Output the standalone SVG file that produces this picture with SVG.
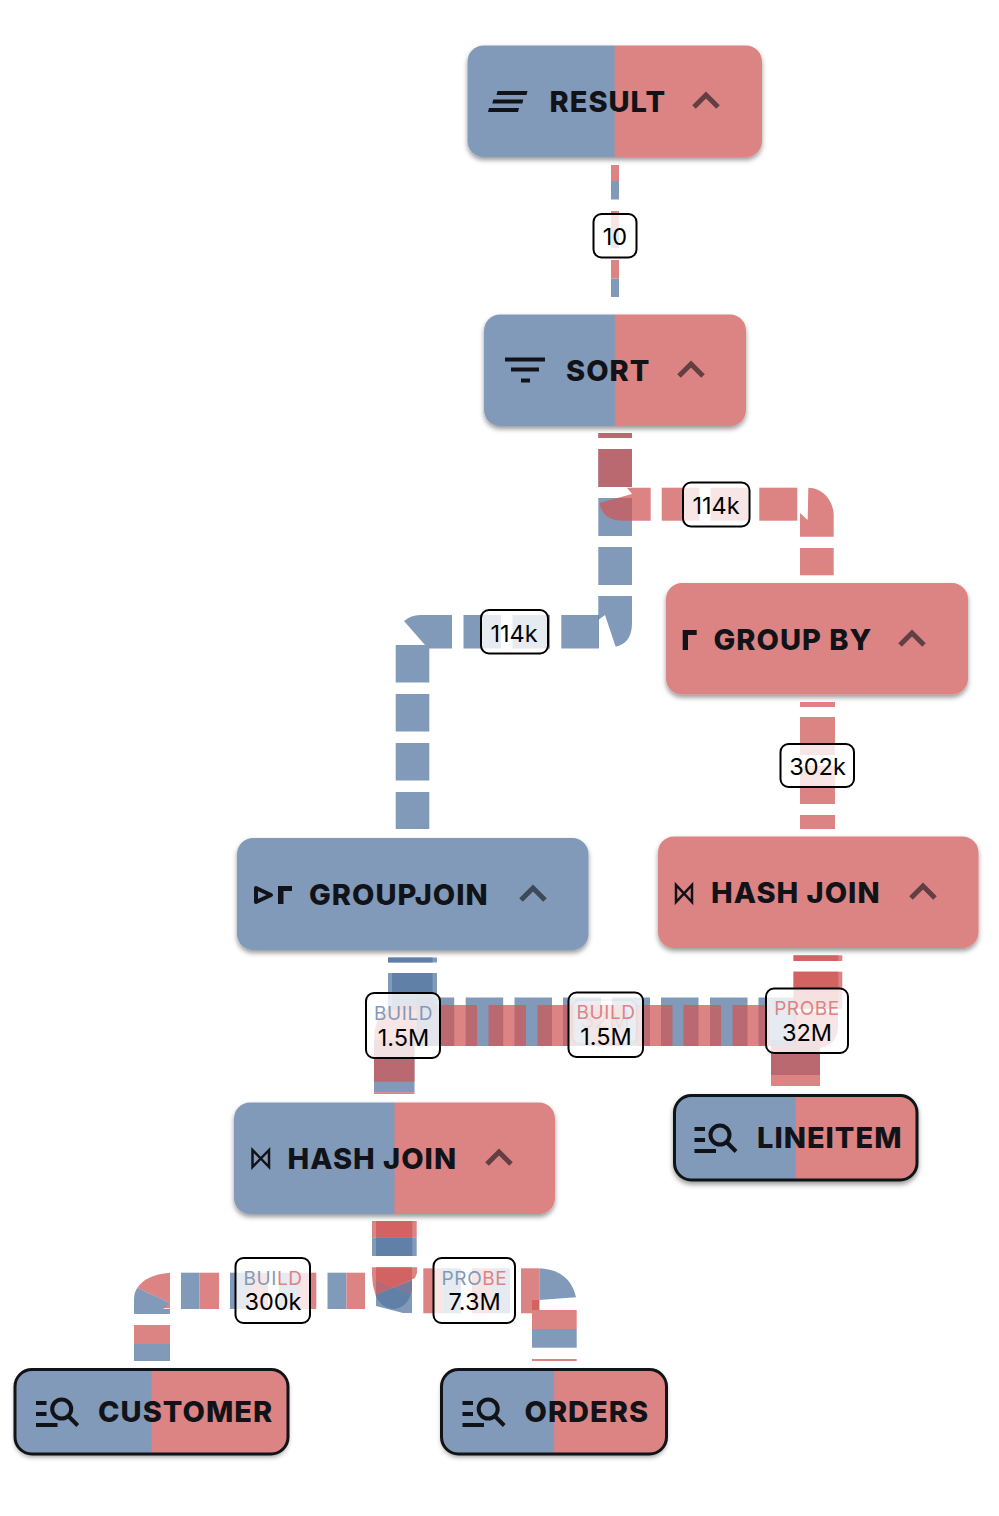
<svg xmlns="http://www.w3.org/2000/svg" width="999" height="1516" viewBox="0 0 999 1516">
<style>
.b{fill:#5577a1;fill-opacity:.74}
.r{fill:#d05858;fill-opacity:.74}
.node{filter:url(#sh)}
.title{font:800 29px Inter,"Liberation Sans",sans-serif;fill:#111318;letter-spacing:1px}
.chev{fill:none;stroke:#111318;stroke-opacity:.6;stroke-width:5}
.ic{fill:#111318}
.icl{fill:none;stroke:#111318;stroke-width:4}
.lab{fill:#fff;fill-opacity:.8;stroke:#000;stroke-width:2}
.lt{font:400 23.5px Inter,"Liberation Sans",sans-serif;fill:#000;text-anchor:middle}
.ls{font:400 19px Inter,"Liberation Sans",sans-serif;text-anchor:middle;letter-spacing:.6px}
.cb{fill:#819ab9}
.cr{fill:#dc8383}
.scan{stroke:#111318;stroke-width:3}
</style>
<defs>
<filter id="sh" x="-5%" y="-10%" width="110%" height="125%"><feDropShadow dx="0" dy="3" stdDeviation="2.5" flood-color="#000" flood-opacity=".4"/></filter>
<linearGradient id="split"><stop offset=".497" stop-color="#819ab9"/><stop offset=".503" stop-color="#dc8383"/></linearGradient>
</defs>

<g id="connectors">
<!-- result to sort -->
<rect class="cr" x="611" y="165" width="8" height="16"/><rect class="cb" x="611" y="181" width="8" height="18.5"/>
<rect class="cr" x="611" y="211" width="8" height="18"/><rect class="cb" x="611" y="229" width="8" height="19"/>
<rect class="cr" x="611" y="260" width="8" height="18.5"/><rect class="cb" x="611" y="278.500" width="8" height="18.500"/>

<!-- sort to groupjoin -->
<rect class="b" x="598.300" y="433" width="33.700" height="5"/>
<rect class="b" x="598.300" y="449" width="33.700" height="38"/>
<rect class="b" x="598.300" y="498" width="33.700" height="38"/>
<rect class="b" x="598.300" y="547" width="33.700" height="38"/>
<path class="b" d="M598.300,596H632V623Q632,643 615.700,646.700L605,615L598.300,620Z"/>
<rect class="b" x="561.300" y="615" width="37.700" height="33.500"/>
<rect class="b" x="512.500" y="615" width="37.500" height="33.500"/>
<rect class="b" x="463.500" y="615" width="37.500" height="33.500"/>
<path class="b" d="M452,615H420Q411,615 404,621L425,645H429V648.500H452Z"/>
<rect class="b" x="395.700" y="645" width="33.600" height="37.500"/>
<rect class="b" x="395.700" y="694" width="33.600" height="37.500"/>
<rect class="b" x="395.700" y="743" width="33.600" height="37.500"/>
<rect class="b" x="395.700" y="792" width="33.600" height="37"/>

<!-- sort to group by -->
<rect class="r" x="598.300" y="433" width="33.700" height="5"/>
<rect class="r" x="598.300" y="449" width="33.700" height="38"/>
<path class="r" d="M650.700,487.700H627L632,494L599.300,503Q603,520.700 623,520.700H650.700Z"/>
<rect class="r" x="661.700" y="487.700" width="37.700" height="33"/>
<rect class="r" x="710.500" y="487.700" width="37.500" height="33"/>
<rect class="r" x="759.300" y="487.700" width="38" height="33"/>
<path class="r" d="M808.300,487.700C824,488 833.700,502 833.700,515V536.700H800V513L807.700,520Z"/>
<rect class="r" x="800" y="548" width="33.700" height="27.300"/>

<!-- group by to hash join -->
<rect class="r" x="800" y="702" width="35" height="5"/>
<rect class="r" x="800" y="717" width="35" height="38"/>
<rect class="r" x="800" y="766" width="35" height="38"/>
<rect class="r" x="800" y="815" width="35" height="14"/>

<!-- groupjoin to hash join, left stub -->
<rect class="b" x="388" y="957.500" width="49" height="5"/>
<rect class="b" x="388" y="957.500" width="44.500" height="5"/>
<rect class="b" x="388" y="973" width="49" height="37"/>
<rect class="b" x="392" y="973" width="40.500" height="37"/>
<rect class="b" x="374" y="1040" width="40.500" height="52.300"/>
<path class="r" d="M374,1092.300V1094H414.500V1092.300Z"/>
<rect class="r" x="374" y="1056" width="40.500" height="25.700"/>
<path class="r" d="M374,1056V1040Q374,1008 400,1005H439.500V1046H414.500V1056Z"/>

<!-- horizontal band -->
<rect class="b" x="416.700" y="997.500" width="37.500" height="48.500"/>
<rect class="b" x="465.700" y="997.500" width="37.500" height="48.500"/>
<rect class="b" x="514.500" y="997.500" width="37.500" height="48.500"/>
<rect class="b" x="563" y="997.500" width="38" height="48.500"/>
<rect class="b" x="612" y="997.500" width="38" height="48.500"/>
<rect class="b" x="661" y="997.500" width="37.500" height="48.500"/>
<rect class="b" x="710" y="997.500" width="37.500" height="48.500"/>
<rect class="b" x="758.500" y="997.500" width="37.500" height="48.500"/>
<rect class="r" x="439.500" y="1005" width="37.500" height="41"/>
<rect class="r" x="488.500" y="1005" width="37.500" height="41"/>
<rect class="r" x="537.500" y="1005" width="37.500" height="41"/>
<rect class="r" x="586.500" y="1005" width="37.500" height="41"/>
<rect class="r" x="635" y="1005" width="37.500" height="41"/>
<rect class="r" x="683.500" y="1005" width="37.500" height="41"/>
<rect class="r" x="732.500" y="1005" width="37.500" height="41"/>

<!-- hash join to lineitem -->
<rect class="r" x="793.500" y="955.300" width="48.800" height="5.700"/>
<rect class="r" x="793.500" y="955.300" width="44.800" height="5.700"/>
<rect class="r" x="793.500" y="971.700" width="48.800" height="37"/>
<rect class="r" x="793.500" y="971.700" width="44.800" height="37"/>
<rect class="b" x="771" y="1040" width="49" height="35"/>
<path class="r" d="M793.500,1012H838V1025Q838,1045 820,1048V1086H771V1045H793.500Z"/>

<!-- hash join to scans, top stub -->
<rect class="r" x="372" y="1221" width="40.300" height="16.500"/>
<rect class="r" x="376" y="1221" width="40.700" height="16.500"/>
<rect class="b" x="372" y="1237.500" width="40.300" height="18.500"/>
<rect class="b" x="376" y="1237.500" width="40.700" height="18.500"/>

<!-- customer branch -->
<path class="r" d="M170,1272.700Q145,1275 137.300,1288L170,1302.700Z"/>
<path class="b" d="M137.300,1288Q134,1292 134,1300V1314H170V1309H163L170,1302.700Z"/>
<path class="r" d="M162.700,1308.300L170,1302.700V1308.300Z"/>
<rect class="cr" x="134" y="1325" width="36" height="19"/>
<rect class="cb" x="134" y="1344" width="36" height="17"/>
<rect class="cb" x="181" y="1272.700" width="18.500" height="36.300"/><rect class="cr" x="199.500" y="1272.700" width="19.500" height="36.300"/>
<rect class="cb" x="230" y="1272.700" width="19" height="36.300"/><rect class="cr" x="249" y="1272.700" width="19" height="36.300"/>
<rect class="cb" x="279" y="1272.700" width="19" height="36.300"/><rect class="cr" x="298" y="1272.700" width="18.300" height="36.300"/>
<rect class="cb" x="327.500" y="1272.700" width="19" height="36.300"/><rect class="cr" x="346.500" y="1272.700" width="18.500" height="36.300"/>

<!-- centre bend -->
<path class="b" d="M376,1280L412,1295V1313H403L376,1306Z"/>
<path class="r" d="M376,1267.300H412V1295L376,1280Z"/>
<path class="b" d="M375.500,1295L412,1280V1290Q408,1309 392,1309Q380,1307 375.500,1295Z"/>
<path class="r" d="M372,1267.300H417V1273L415,1278L375.500,1295Q372,1285 372,1275Z"/>

<!-- orders branch -->
<rect class="cr" x="423.300" y="1268.300" width="19.500" height="45"/><rect class="cb" x="442.800" y="1268.300" width="18.200" height="45"/>
<rect class="cr" x="472" y="1268.300" width="19" height="45"/><rect class="cb" x="491" y="1268.300" width="19" height="45"/>
<rect class="cr" x="521" y="1268.300" width="18.300" height="45"/>
<path class="cb" d="M539.300,1268.300Q570,1270 576,1297.300L539.300,1300Z"/>
<path class="r" d="M532,1300H539.300V1310H536V1313H532Z"/>
<rect class="cr" x="532" y="1310" width="44.700" height="19"/>
<rect class="cb" x="532" y="1329" width="44.700" height="18.700"/>
<rect class="cr" x="532" y="1359" width="44.700" height="2"/>
</g>

<g id="node-result">
<rect class="node" x="467.500" y="45.500" width="294.500" height="111.500" rx="16" fill="url(#split)"/>
<path class="ic" d="M497.500,91H527.500L526.500,95H496.500ZM493.300,99.500H523.300L522.300,103.500H492.300ZM489,108H519L518,112H488Z"/>
<text class="title" x="549.500" y="112">RESULT</text>
<path class="chev" d="M694,107L706,95L718,107"/>
</g>
<g id="node-sort">
<rect class="node" x="484" y="314.500" width="262" height="111.500" rx="16" fill="url(#split)"/>
<path class="ic" d="M505,357.500H545V361.500H505ZM511,367.500H539V371.500H511ZM521,378.500H530V382.500H521Z"/>
<text class="title" x="566" y="381">SORT</text>
<path class="chev" d="M679,376L691,364L703,376"/>
</g>
<g id="node-groupby">
<rect class="node" x="666" y="583" width="302" height="111.500" rx="16" fill="#dc8383"/>
<path class="ic" d="M682.700,630H696.700V635H688V650H682.700Z"/>
<text class="title" x="713.500" y="650">GROUP BY</text>
<path class="chev" d="M900,645L912,633L924,645"/>
</g>
<g id="node-groupjoin">
<rect class="node" x="237" y="838" width="351.500" height="112" rx="16" fill="#819ab9"/>
<path d="M256,888V902L271,895Z" fill="none" stroke="#111318" stroke-width="4" stroke-linejoin="round"/>
<path class="ic" d="M278,886H292V891H283.500V904H278Z"/>
<text class="title" x="309" y="905">GROUPJOIN</text>
<path class="chev" d="M521,900L533,888L545,900"/>
</g>
<g id="node-hashjoin-right">
<rect class="node" x="658" y="836.500" width="320.500" height="111.500" rx="16" fill="#dc8383"/>
<path d="M676,885V902L692,885V902Z" fill="none" stroke="#111318" stroke-width="2.500"/>
<text class="title" x="711" y="903">HASH JOIN</text>
<path class="chev" d="M911,898L923,886L935,898"/>
</g>
<g id="node-hashjoin-left">
<rect class="node" x="234" y="1102.500" width="321" height="111.500" rx="16" fill="url(#split)"/>
<path d="M252.500,1150V1167L269,1150V1167Z" fill="none" stroke="#111318" stroke-width="2.500"/>
<text class="title" x="287.500" y="1169">HASH JOIN</text>
<path class="chev" d="M487,1164L499,1152L511,1164"/>
</g>
<g id="node-lineitem">
<rect class="node scan" x="674.500" y="1095.500" width="242.500" height="84.500" rx="17" fill="url(#split)"/>
<path class="ic" d="M694.500,1127H705V1131H694.500ZM694.500,1138H705V1142H694.500ZM694.500,1149H716V1153H694.500Z"/>
<circle class="icl" cx="720" cy="1135" r="9.500"/><path class="icl" d="M726.500,1142L736,1151.500"/>
<text class="title" x="757" y="1148">LINEITEM</text>
</g>
<g id="node-customer">
<rect class="node" x="15" y="1369.500" width="273" height="84.500" rx="17" fill="url(#split)"/>
<rect x="15" y="1369.500" width="273" height="84.500" rx="17" fill="none" stroke="#111318" stroke-width="3"/>
<path class="ic" d="M36,1401H46.500V1405H36ZM36,1412H46.500V1416H36ZM36,1423H57.500V1427H36Z"/>
<circle class="icl" cx="61.700" cy="1409" r="9.500"/><path class="icl" d="M68.200,1416L77.700,1425.500"/>
<text class="title" x="98" y="1422">CUSTOMER</text>
</g>
<g id="node-orders">
<rect class="node" x="441.500" y="1369.500" width="225" height="84.500" rx="17" fill="url(#split)"/>
<rect x="441.500" y="1369.500" width="225" height="84.500" rx="17" fill="none" stroke="#111318" stroke-width="3"/>
<path class="ic" d="M462.500,1401H473V1405H462.500ZM462.500,1412H473V1416H462.500ZM462.500,1423H484V1427H462.500Z"/>
<circle class="icl" cx="488.200" cy="1409" r="9.500"/><path class="icl" d="M494.700,1416L504.200,1425.500"/>
<text class="title" x="524.500" y="1422">ORDERS</text>
</g>

<g id="label-10"><rect class="lab" x="593.500" y="214" width="43" height="43.500" rx="8"/><text class="lt" x="615" y="245">10</text></g>
<g id="label-114k-a"><rect class="lab" x="683" y="482.500" width="66.500" height="44" rx="8"/><text class="lt" x="716" y="514">114k</text></g>
<g id="label-114k-b"><rect class="lab" x="481" y="610" width="67" height="43.500" rx="8"/><text class="lt" x="514" y="642">114k</text></g>
<g id="label-302k"><rect class="lab" x="780.500" y="744" width="73.500" height="43" rx="8"/><text class="lt" x="817.500" y="775">302k</text></g>
<g id="label-ghost" opacity=".18"><rect x="572" y="1000" width="65" height="44" rx="8" fill="#fff" stroke="#000" stroke-width="2"/><text class="lt" x="605" y="1028">32M</text></g>
<g id="label-build-a"><rect class="lab" x="366" y="993" width="74" height="65" rx="8"/><text class="ls cb" x="403.500" y="1020">BUILD</text><text class="lt" x="403.500" y="1046">1.5M</text></g>
<g id="label-build-b"><rect class="lab" x="568.500" y="992.500" width="74.500" height="64.500" rx="8"/><text class="ls cr" x="606" y="1019">BUILD</text><text class="lt" x="606" y="1045">1.5M</text></g>
<g id="label-probe-a"><rect class="lab" x="766" y="988.500" width="82" height="64.500" rx="8"/><text class="ls cr" x="807" y="1015">PROBE</text><text class="lt" x="807" y="1041">32M</text></g>
<g id="label-build-c"><rect class="lab" x="235.500" y="1258" width="74.500" height="65" rx="8"/><text class="ls" x="273" y="1285"><tspan class="cb">BUI</tspan><tspan class="cr">LD</tspan></text><text class="lt" x="273" y="1310">300k</text></g>
<g id="label-probe-b"><rect class="lab" x="433.500" y="1258" width="81.500" height="65" rx="8"/><text class="ls" x="474.500" y="1285"><tspan class="cb">PRO</tspan><tspan class="cr">BE</tspan></text><text class="lt" x="474.500" y="1310">7.3M</text></g>
</svg>
